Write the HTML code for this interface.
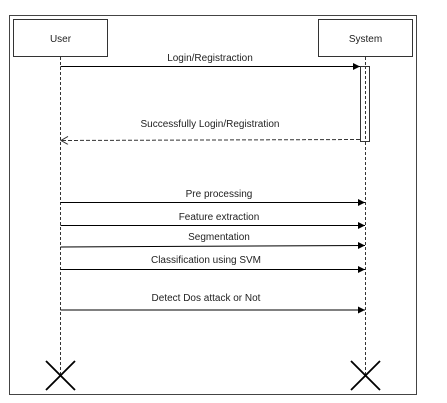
<!DOCTYPE html>
<html><head><style>body{margin:0;background:#fff}svg{display:block}text{font-family:"Liberation Sans",Arial,sans-serif;font-size:10px;fill:#222}</style></head>
<body>
<svg width="447" height="403" viewBox="0 0 447 403" xmlns="http://www.w3.org/2000/svg">
<defs>
<marker id="a" markerWidth="8" markerHeight="8" refX="7" refY="3.5" orient="auto" markerUnits="userSpaceOnUse"><path d="M0,0 L7,3.5 L0,7 z" fill="#000"/></marker>
<marker id="o" markerWidth="10" markerHeight="10" refX="8" refY="4" orient="auto" markerUnits="userSpaceOnUse"><path d="M1,0 L8,4 L1,8" fill="none" stroke="#333"/></marker>
</defs>
<rect x="9.5" y="15.5" width="407" height="379" fill="#fff" stroke="#444"/>
<rect x="13.5" y="19.5" width="94" height="37" fill="#fff" stroke="#333"/>
<text x="60.5" y="42" text-anchor="middle" font-size="11">User</text>
<rect x="318.5" y="19.5" width="94" height="37" fill="#fff" stroke="#333"/>
<text x="365.5" y="42" text-anchor="middle" font-size="11">System</text>
<line x1="60.5" y1="57" x2="60.5" y2="375" stroke="#333" stroke-dasharray="3,2"/>
<line x1="365.5" y1="57" x2="365.5" y2="375" stroke="#333" stroke-dasharray="3,2"/>
<line x1="60.5" y1="66.5" x2="360" y2="66.5" stroke="#000" marker-end="url(#a)"/>
<text x="210" y="61" text-anchor="middle" font-size="9.5">Login/Registraction</text>
<rect x="360.5" y="66.5" width="9" height="75" fill="#fff" stroke="#333"/>
<line x1="365.5" y1="66" x2="365.5" y2="141" stroke="#333" stroke-dasharray="3,2"/>
<line x1="360" y1="139.5" x2="61" y2="140.5" stroke="#333" stroke-dasharray="4,2" marker-end="url(#o)"/>
<text x="210" y="127" text-anchor="middle" font-size="9.5">Successfully Login/Registration</text>
<line x1="60.5" y1="202.5" x2="365" y2="202.5" stroke="#000" marker-end="url(#a)"/>
<text x="219" y="197" text-anchor="middle" font-size="9.5">Pre processing</text>
<line x1="60.5" y1="225.5" x2="365" y2="225.5" stroke="#000" marker-end="url(#a)"/>
<text x="219" y="220" text-anchor="middle" font-size="9.5">Feature extraction</text>
<line x1="60.5" y1="247" x2="365" y2="245.5" stroke="#000" marker-end="url(#a)"/>
<text x="219" y="240" text-anchor="middle" font-size="9.5">Segmentation</text>
<line x1="60.5" y1="269.5" x2="365" y2="269.5" stroke="#000" marker-end="url(#a)"/>
<text x="206" y="263" text-anchor="middle" font-size="12">Classification using SVM</text>
<line x1="60.5" y1="310" x2="365" y2="310" stroke="#000" marker-end="url(#a)"/>
<text x="206" y="301" text-anchor="middle" font-size="12">Detect Dos attack or Not</text>
<path d="M46,361 L75,390 M75,361 L46,390" stroke="#000" stroke-width="1.8"/>
<path d="M351,361 L380,390 M380,361 L351,390" stroke="#000" stroke-width="1.8"/>
</svg>
</body></html>
